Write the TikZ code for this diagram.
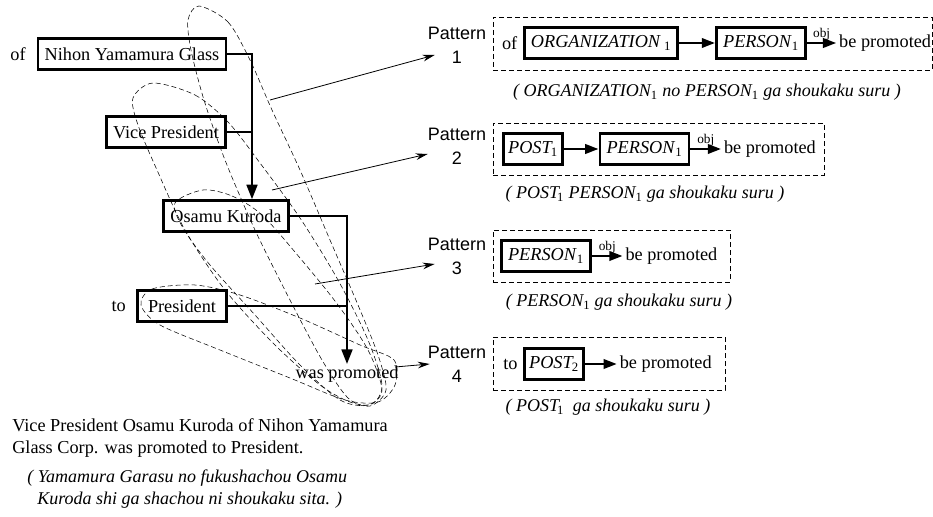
\documentclass[tikz,border=0pt]{standalone}
\usepackage{fontspec}
\setmainfont{Liberation Serif}
\setsansfont{Liberation Sans}
\usetikzlibrary{arrows.meta, positioning}

\newcommand{\idx}[1]{\textsubscript{\upshape #1}}

\begin{document}
\begin{tikzpicture}[
                x = 0.75pt, y = -0.75pt, % one unit = one pixel of the sketch
                > = {Triangle[length=10pt, width=7pt]}, % arrow head style
                font = \fontsize{13.7}{16.5}\selectfont,
                every node/.style = {inner sep = 2pt}
            ]

            \tikzstyle{wbox}=[draw, line width=2pt, minimum height=23pt,
            inner xsep=5pt]
            \tikzstyle{tree}=[line width=2pt]
            \tikzstyle{treearrow}=[tree, -{Triangle[length=11pt, width=8pt]}]
            \tikzstyle{rowarrow}=[line width=2pt, ->]
            \tikzstyle{patarrow}=[semithick, -{Stealth[length=9pt, width=5pt]}]
            \tikzstyle{patbox}=[draw, thin, dash pattern=on 3.75pt off 2.25pt]
            \tikzstyle{matchloop}=[thin, dash pattern=on 3.75pt off 2.25pt]
            \tikzstyle{patlabel}=[font=\sffamily\fontsize{13.5}{18}\selectfont,
            align=center, inner sep=0pt]
            \tikzstyle{obj}=[above, inner sep=1pt, font=\fontsize{10}{12}\selectfont]
            \tikzstyle{gloss}=[font=\fontsize{13.5}{17}\selectfont\itshape]

            \useasboundingbox (0,0) rectangle (933,517);

            % dependency tree of the sentence
            \node (nyg) [wbox] at (132,54) {Nihon Yamamura Glass};
            \node (of1) [left=6pt of nyg] {of};
            \node (vp) [wbox] at (166,132) {Vice President};
            \node (ok) [wbox] at (226,216) {Osamu Kuroda};
            \node (pres) [wbox, minimum width=67pt] at (182,306) {President};
            \node (to1) [left=5.5pt of pres] {to};
            \node (wp) [inner sep=1pt] at (347,374) {was promoted};

            \coordinate (j1) at (252,0); \coordinate (j2) at (347,0);
            \draw[treearrow] (nyg.east) -| (j1 |- ok.north);
            \draw[tree] (vp.east) -- (vp.east -| j1);
            \draw[treearrow] (ok.east) -| (j2 |- wp.north);
            \draw[tree] (pres.east) -- (pres.east -| j2);

            % matched parts
            \draw[matchloop] plot[smooth cycle] coordinates {(199,6) (228,22)
            (250,60) (272,110) (300,170) (330,240) (358,305) (378,355)
            (386,390) (370,406) (348,398) (322,360) (290,300) (255,230)
            (225,160) (204,100) (191,50) (188,20)};
            \draw[matchloop] plot[smooth cycle] coordinates {(153,83) (195,95)
            (228,122) (260,163) (300,218) (338,280) (368,340) (382,385)
            (372,404) (350,402) (320,385) (275,345) (225,290) (185,230)
            (157,170) (138,125) (133,98)};
            \draw[matchloop] plot[smooth cycle] coordinates {(203,190) (232,196)
            (262,215) (300,258) (338,305) (368,350) (382,390) (368,405)
            (340,400) (300,365) (255,315) (210,265) (183,228) (175,203)};
            \draw[matchloop] plot[smooth cycle] coordinates {(141,305) (152,289)
            (195,285) (240,295) (300,318) (360,345) (394,360) (395,385)
            (378,402) (345,400) (290,378) (220,350) (160,325)};

            % patterns
            \node (pat1) [patlabel] at (457,45) {Pattern\\1};
            \node (pat2) [patlabel] at (457,146) {Pattern\\2};
            \node (pat3) [patlabel] at (457,256) {Pattern\\3};
            \node (pat4) [patlabel] at (457,364) {Pattern\\4};

            \coordinate (s1) at (270,100); \coordinate (s2) at (272,190);
            \coordinate (s3) at (315,284); \coordinate (s4) at (395,367);
            \draw[patarrow] (s1) -- ([shift={(7,10)}]pat1.west);
            \draw[patarrow] (s2) -- ([shift={(0,8)}]pat2.west);
            \draw[patarrow] (s3) -- ([shift={(7,8)}]pat3.west);
            \draw[patarrow] (s4) -- ([shift={(2,0)}]pat4.west);

            \node (pb1) [patbox, minimum width=329.25pt, minimum height=39.75pt]
            at (712.5,43.5) {};
            \node (pb2) [patbox, minimum width=248.25pt, minimum height=39pt]
            at (658.5,149) {};
            \node (pb3) [patbox, minimum width=177.75pt, minimum height=39pt]
            at (611.5,256) {};
            \node (pb4) [patbox, minimum width=174pt, minimum height=39.75pt]
            at (609,363.5) {};

            % pattern 1
            \node (org) [wbox, minimum width=114pt] at (601,43)
            {\textit{ORGANIZATION}\,\idx{1}};
            \node (of2) [left=2pt of org] {of};
            \node (per1) [wbox, right=27pt of org] {\textit{PERSON}\idx{1}};
            \node (bp1) [right=22pt of per1] {be promoted};
            \draw[rowarrow] (org) -- (per1);
            \draw[rowarrow] (per1) -- node[obj] {obj} (bp1);
            \node (cap1) [gloss] at (707,92)
            {( ORGANIZATION\idx{1} no PERSON\idx{1} ga shoukaku suru )};

            % pattern 2
            \node (post1) [wbox, inner xsep=3.5pt] at (533,149)
            {\textit{POST}\kern-1.5pt\idx{1}};
            \node (per2) [wbox, right=26pt of post1] {\textit{PERSON}\idx{1}};
            \node (bp2) [right=23pt of per2] {be promoted};
            \draw[rowarrow] (post1) -- (per2);
            \draw[rowarrow] (per2) -- node[obj] {obj} (bp2);
            \node (cap2) [gloss] at (645,194)
            {( POST\kern-1.5pt\idx{1} PERSON\idx{1} ga shoukaku suru )};

            % pattern 3
            \node (per3) [wbox] at (546,256) {\textit{PERSON}\idx{1}};
            \node (bp3) [right=23pt of per3] {be promoted};
            \draw[rowarrow] (per3) -- node[obj] {obj} (bp3);
            \node (cap3) [gloss] at (619,302)
            {( PERSON\idx{1} ga shoukaku suru )};

            % pattern 4
            \node (post2) [wbox, inner xsep=3.5pt] at (554,364)
            {\textit{POST}\kern-1.5pt\idx{2}};
            \node (to2) [left=2pt of post2] {to};
            \node (bp4) [right=24pt of post2] {be promoted};
            \draw[rowarrow] (post2) -- (bp4);
            \node (cap4) [gloss] at (608,407)
            {( POST\kern-1.5pt\idx{1}\ \ ga shoukaku suru )};

            % the sentence
            \node (sent) [anchor=west, align=left, inner sep=0pt] at (12,438)
            {Vice President Osamu Kuroda of Nihon Yamamura\\
            Glass Corp. was promoted to President.};
            \node (jap) [gloss, anchor=west, align=left, inner sep=0pt]
            at (27,489) {( Yamamura Garasu no fukushachou Osamu\\
            \hspace*{7.5pt}Kuroda shi ga shachou ni shoukaku sita. )};

        \end{tikzpicture}
\end{document}
